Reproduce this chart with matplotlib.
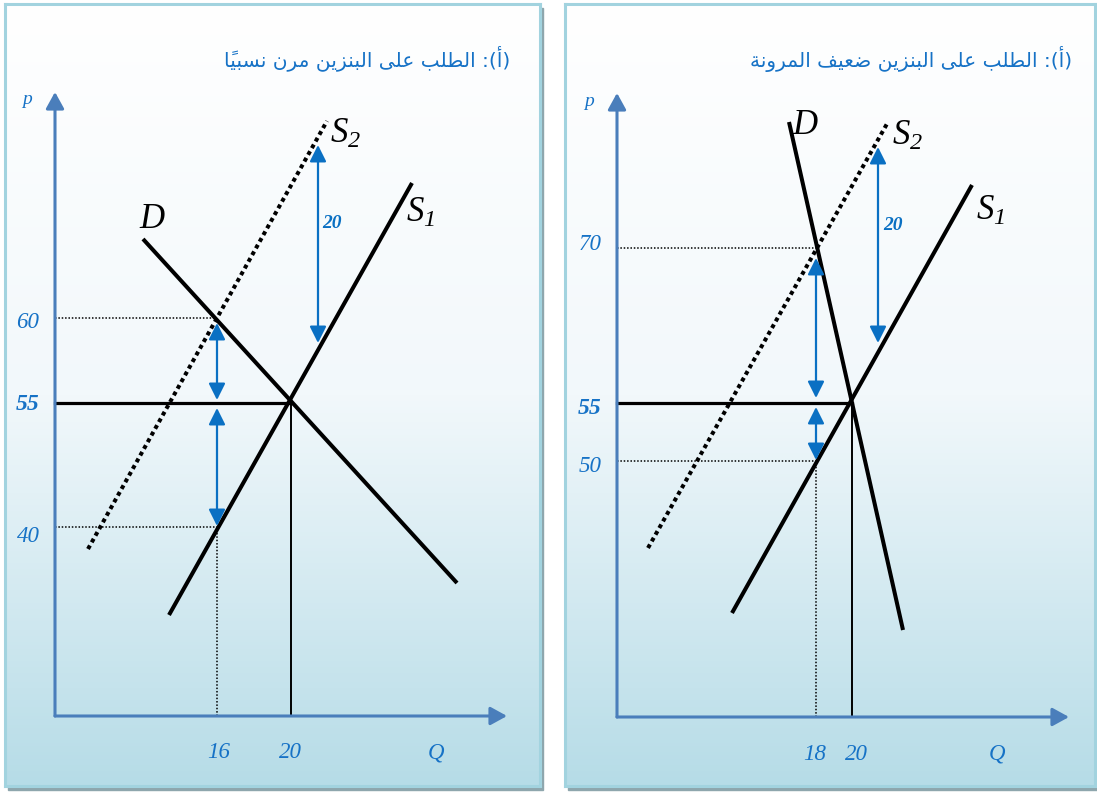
import numpy as np
import matplotlib.pyplot as plt
from matplotlib.patches import FancyArrowPatch, Rectangle
from matplotlib.colors import LinearSegmentedColormap

plt.rcParams['mathtext.fontset'] = 'custom'
plt.rcParams['mathtext.it'] = 'Liberation Serif:italic'
plt.rcParams['mathtext.rm'] = 'Liberation Serif:italic'

W, H = 1097, 792

# schematic diagram units: 1 unit = 1 px measured from the axes origin (not to scale)
titles = ['(أ): الطلب على البنزين مرن نسبياً', '(أ): الطلب على البنزين ضعيف المرونة']

# left panel: relatively elastic demand
l_demand = [[88, 402], [477, 133]]
l_supply1 = [[114, 357], [101, 533]]
l_supply2 = [[33, 272], [167, 595]]
l_eq = (236, 313)
l_guide_q = 162
l_guide_p = [398, 189]
l_arrows = [(162, 393, 316), (162, 308, 190), (263, 571, 373)]
l_p_pos = [393, 311, 179]
l_p_labels = ['60', '55', '40']
l_q_pos = [164, 235, 381]
l_q_labels = ['16', '20', 'Q']

# right panel: inelastic demand
r_demand = [[172, 286], [595, 87]]
r_supply1 = [[115, 355], [104, 532]]
r_supply2 = [[31, 271], [169, 595]]
r_eq = (235, 314)
r_guide_q = 199
r_guide_p = [469, 256]
r_arrows = [(199, 459, 319), (199, 310, 257), (261, 570, 374)]
r_p_pos = [472, 309, 250]
r_p_labels = ['70', '55', '50']
r_q_pos = [198, 239, 380]
r_q_labels = ['18', '20', 'Q']

# curve labels: D, S2, S1, shift size
l_lbl = [(97, 496), (290, 583), (365, 504), (277, 493)]
r_lbl = [(188, 592), (290, 582), (373, 507), (276, 492)]

AXIS = '#4a7ebb'
BLUE = '#0a70c3'
TXT = '#1672c6'

# --- minimal arabic shaping (presentation forms + visual order)
FORMS = {
    'ا': ('\uFE8D', '\uFE8E', None, None),
    'أ': ('\uFE83', '\uFE84', None, None),
    'ب': ('\uFE8F', '\uFE90', '\uFE91', '\uFE92'),
    'ة': ('\uFE93', '\uFE94', None, None),
    'ز': ('\uFEAF', '\uFEB0', None, None),
    'ر': ('\uFEAD', '\uFEAE', None, None),
    'س': ('\uFEB1', '\uFEB2', '\uFEB3', '\uFEB4'),
    'ض': ('\uFEBD', '\uFEBE', '\uFEBF', '\uFEC0'),
    'ط': ('\uFEC1', '\uFEC2', '\uFEC3', '\uFEC4'),
    'ع': ('\uFEC9', '\uFECA', '\uFECB', '\uFECC'),
    'ف': ('\uFED1', '\uFED2', '\uFED3', '\uFED4'),
    'ل': ('\uFEDD', '\uFEDE', '\uFEDF', '\uFEE0'),
    'م': ('\uFEE1', '\uFEE2', '\uFEE3', '\uFEE4'),
    'ن': ('\uFEE5', '\uFEE6', '\uFEE7', '\uFEE8'),
    'و': ('\uFEED', '\uFEEE', None, None),
    'ى': ('\uFEEF', '\uFEF0', '\uFBE8', '\uFBE9'),
    'ي': ('\uFEF1', '\uFEF2', '\uFEF3', '\uFEF4'),
}


def is_mark(c):
    return '\u064B' <= c <= '\u0652'


def shape(s):
    letters = [i for i, c in enumerate(s) if not is_mark(c)]
    out = list(s)
    for k, i in enumerate(letters):
        c = s[i]
        if c not in FORMS:
            continue
        prev = s[letters[k - 1]] if k > 0 else ''
        nxt = s[letters[k + 1]] if k + 1 < len(letters) else ''
        jp = prev in FORMS and FORMS[prev][2] is not None
        jn = nxt in FORMS and FORMS[c][2] is not None
        f = FORMS[c]
        out[i] = f[3] if jp and jn else f[1] if jp else f[2] if jn else f[0]
    clusters = []
    for i, c in enumerate(out):
        if is_mark(s[i]) and clusters:
            clusters[-1] += c
        else:
            clusters.append(c)
    mirror = {'(': ')', ')': '('}
    return ''.join(mirror.get(c, c) for c in reversed(clusters))


def seg_arrow(ax, p0, p1, color, lw, hl, hw, style):
    ax.add_patch(FancyArrowPatch(p0, p1, arrowstyle=f'{style},head_length={hl},head_width={hw}',
                                 color=color, lw=lw, shrinkA=0, shrinkB=0, mutation_scale=1, zorder=5))


def draw_panel(ax, xlim, ylim, title, demand, s1, s2, eq, gq, gp, arrows,
               p_pos, p_labels, q_pos, q_labels, lbl):
    cmap = LinearSegmentedColormap.from_list('bg', ['#ffffff', '#f2f8fb', '#b6dce7'])
    ax.imshow(np.linspace(0, 1, 256).reshape(-1, 1), cmap=cmap, aspect='auto', origin='upper',
              extent=(xlim[0], xlim[1], ylim[0], ylim[1]), zorder=0)
    ax.set_xlim(xlim)
    ax.set_ylim(ylim)
    ax.set_xticks([])
    ax.set_yticks([])
    for sp in ax.spines.values():
        sp.set_color('#a2d3df')
        sp.set_linewidth(2.2)

    # axes arrows
    seg_arrow(ax, (0, 0), (0, 624), AXIS, 2.2, 10, 5.5, '-|>')
    seg_arrow(ax, (0, 0), (452, 0), AXIS, 2.2, 10, 5.5, '-|>')

    # guides
    for y in gp:
        ax.plot([0, gq], [y, y], color='black', lw=1.1, ls=(0, (1, 1.2)), zorder=2)
    ax.plot([gq, gq], [0, min(gp)], color='black', lw=1.1, ls=(0, (1, 1.2)), zorder=2)
    ax.plot([0, eq[0]], [eq[1], eq[1]], color='black', lw=2.3, zorder=3)
    ax.plot([eq[0], eq[0]], [0, eq[1]], color='black', lw=1.4, zorder=3)

    # curves
    ax.plot(demand[0], demand[1], color='black', lw=2.9, solid_capstyle='butt', zorder=4)
    ax.plot(s1[0], s1[1], color='black', lw=2.9, solid_capstyle='butt', zorder=4)
    ax.plot(s2[0], s2[1], color='black', lw=2.9, ls=(0, (1, 0.9)), zorder=4)

    for x, ya, yb in arrows:
        seg_arrow(ax, (x, ya), (x, yb), BLUE, 1.6, 10, 5, '<|-|>')

    serif = dict(family='Liberation Serif', style='italic')
    ax.text(*lbl[0], 'D', fontsize=25, ha='center', va='center', **serif)
    ax.text(*lbl[1], r'$S_{2}$', fontsize=25, ha='center', va='center')
    ax.text(*lbl[2], r'$S_{1}$', fontsize=25, ha='center', va='center')
    ax.text(*lbl[3], '20', fontsize=14, weight='bold', color=BLUE, ha='center', va='center', **serif)

    for y, t in zip(p_pos, p_labels):
        bold = t == '55'
        ax.text(-27, y, t, fontsize=17 if bold else 16.5, weight='bold' if bold else 'normal',
                color=TXT, ha='center', va='center', **serif)
    for x, t in zip(q_pos, q_labels):
        ax.text(x, -37, t, fontsize=16.5, color=TXT, ha='center', va='center', **serif)
    ax.text(-28, 616, 'p', fontsize=14, color=TXT, ha='center', va='center', **serif)
    ax.text(455, 658, shape(title), fontsize=14.5, color=TXT, ha='right', va='center',
            family='DejaVu Sans')


fig = plt.figure(figsize=(W / 100, H / 100), dpi=100)
bg = fig.add_axes([0, 0, 1, 1])
bg.set_xlim(0, W)
bg.set_ylim(H, 0)
bg.axis('off')
for x0, w in [(5, 535), (565, 530)]:
    bg.add_patch(Rectangle((x0 + 3, 8), w, 782, color='#8ea6ad', zorder=0))

axl = fig.add_axes([5 / W, (H - 786) / H, 535 / W, 782 / H])
draw_panel(axl, (-50, 485), (-70, 712), titles[0], l_demand, l_supply1, l_supply2, l_eq,
           l_guide_q, l_guide_p, l_arrows, l_p_pos, l_p_labels, l_q_pos, l_q_labels, l_lbl)

axr = fig.add_axes([565 / W, (H - 786) / H, 530 / W, 782 / H])
draw_panel(axr, (-52, 478), (-69, 713), titles[1], r_demand, r_supply1, r_supply2, r_eq,
           r_guide_q, r_guide_p, r_arrows, r_p_pos, r_p_labels, r_q_pos, r_q_labels, r_lbl)

fig.savefig('out.png', dpi=100)
